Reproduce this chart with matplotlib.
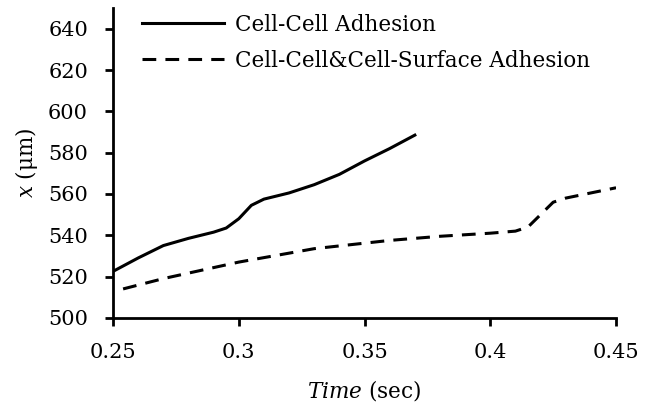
import matplotlib
matplotlib.use('Agg')
import matplotlib.pyplot as plt

plt.rcParams['font.family'] = 'DejaVu Serif'
plt.rcParams['mathtext.fontset'] = 'dejavuserif'

# Cell-Cell adhesion (solid)
t_cc = [0.25, 0.26, 0.27, 0.28, 0.29, 0.295, 0.30, 0.305, 0.31, 0.32,
        0.33, 0.34, 0.35, 0.36, 0.37]
x_cc = [522.5, 529, 535, 538.5, 541.5, 543.5, 548, 554.5, 557.5, 560.5,
        564.5, 569.5, 576, 582, 588.5]

# Cell-Cell & Cell-Surface adhesion (dashed)
t_cs = [0.254, 0.27, 0.30, 0.33, 0.36, 0.38, 0.40, 0.41, 0.415, 0.42,
        0.425, 0.43, 0.44, 0.45]
x_cs = [514, 519, 527, 533.5, 537.5, 539.5, 541, 542, 544, 550,
        556, 558, 560.5, 563]

y_ticks = [500, 520, 540, 560, 580, 600, 620, 640]
x_ticks = [0.25, 0.3, 0.35, 0.4, 0.45]
x_ticklabels = ['0.25', '0.3', '0.35', '0.4', '0.45']

fig = plt.figure(figsize=(6.61, 4.08), dpi=100)
ax = fig.add_axes([0.171, 0.221, 0.761, 0.759])

ax.plot(t_cc, x_cc, color='black', lw=2.2, label='Cell-Cell Adhesion')
ax.plot(t_cs, x_cs, color='black', lw=2.2, ls=(0, (4.5, 3)),
        label='Cell-Cell&Cell-Surface Adhesion')

ax.set_xlim(0.25, 0.45)
ax.set_ylim(500, 650)
ax.set_xticks(x_ticks)
ax.set_xticklabels(x_ticklabels)
ax.set_yticks(y_ticks)

for s in ['top', 'right']:
    ax.spines[s].set_visible(False)
for s in ['left', 'bottom']:
    ax.spines[s].set_linewidth(2.0)
ax.tick_params(direction='out', length=6, width=2.0, labelsize=15, pad=12)

ax.set_xlabel(r'$Time$ (sec)', fontsize=15.5, labelpad=12)
ax.set_ylabel(r'$x$ (μm)', fontsize=15.5, labelpad=6)

ax.legend(loc='upper left', bbox_to_anchor=(0.02, 1.045), frameon=False,
          fontsize=15.5, handlelength=3.8, handletextpad=0.5, labelspacing=0.65)

fig.savefig('out.png', dpi=100)
